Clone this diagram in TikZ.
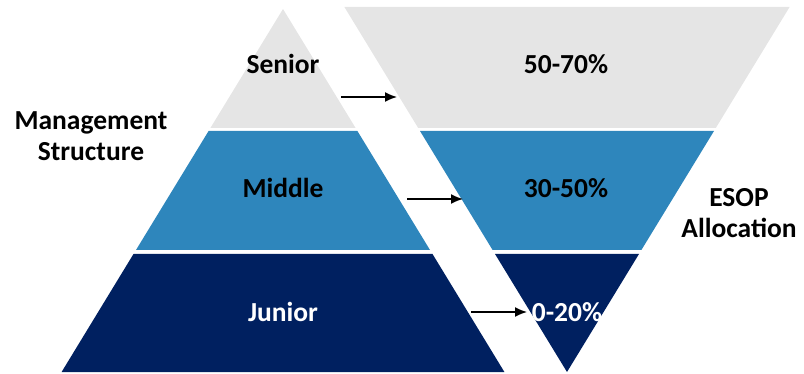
\documentclass[tikz,border=0pt]{standalone}
\usepackage{fontspec}
\setmainfont{Carlito}
\usetikzlibrary{arrows.meta}

\definecolor{tiergrey}{RGB}{229,229,229}
\definecolor{tierblue}{RGB}{46,134,188}
\definecolor{tiernavy}{RGB}{0,32,96}

\begin{document}
\begin{tikzpicture}[
  x=1pt,y=-1pt,
  font=\fontsize{27.5}{31.5}\selectfont\bfseries,
  tag/.style={anchor=base,inner sep=0pt},
  side/.style={align=center,inner sep=0pt},
  link/.style={-{Latex[length=12pt,width=10pt]},line width=1.5pt},
]
  \useasboundingbox (0,0) rectangle (804,374);

  % staff pyramid
  \fill[tiergrey] (283,9) -- (355.6,128) -- (210.4,128) -- cycle;
  \fill[tierblue] (208.6,131) -- (357.4,131) -- (430,250) -- (136,250) -- cycle;
  \fill[tiernavy] (133.5,254) -- (432.5,254) -- (504.4,372) -- (61.6,372) -- cycle;

  % allocation funnel
  \fill[tiergrey] (344.4,7) -- (789.6,7) -- (715.8,128) -- (418.2,128) -- cycle;
  \fill[tierblue] (420,131) -- (714,131) -- (641.4,250) -- (492.6,250) -- cycle;
  \fill[tiernavy] (495,254) -- (639,254) -- (567,372) -- cycle;

  \node[tag] (sen) at (283,74) {Senior};
  \node[tag] (mid) at (283,198) {Middle};
  \node[tag,text=white] (jun) at (283,322) {Junior};

  \node[tag] (top) at (566,74) {50-70\%};
  \node[tag] (mdl) at (566,198) {30-50\%};
  \node[tag,text=white] (low) at (567,322) {0-20\%};

  \node[side] (mgmt) at (91,136) {Management\\Structure};
  \node[side] (esop) at (739,213) {ESOP\\Allocation};

  \coordinate (sen-out) at (341,97);
  \coordinate (top-in) at (397,97);
  \coordinate (mid-out) at (407,199);
  \coordinate (mdl-in) at (463,199);
  \coordinate (jun-out) at (471,312);
  \coordinate (low-in) at (527,312);

  \draw[link] (sen-out) -- (top-in);
  \draw[link] (mid-out) -- (mdl-in);
  \draw[link] (jun-out) -- (low-in);
\end{tikzpicture}
\end{document}
